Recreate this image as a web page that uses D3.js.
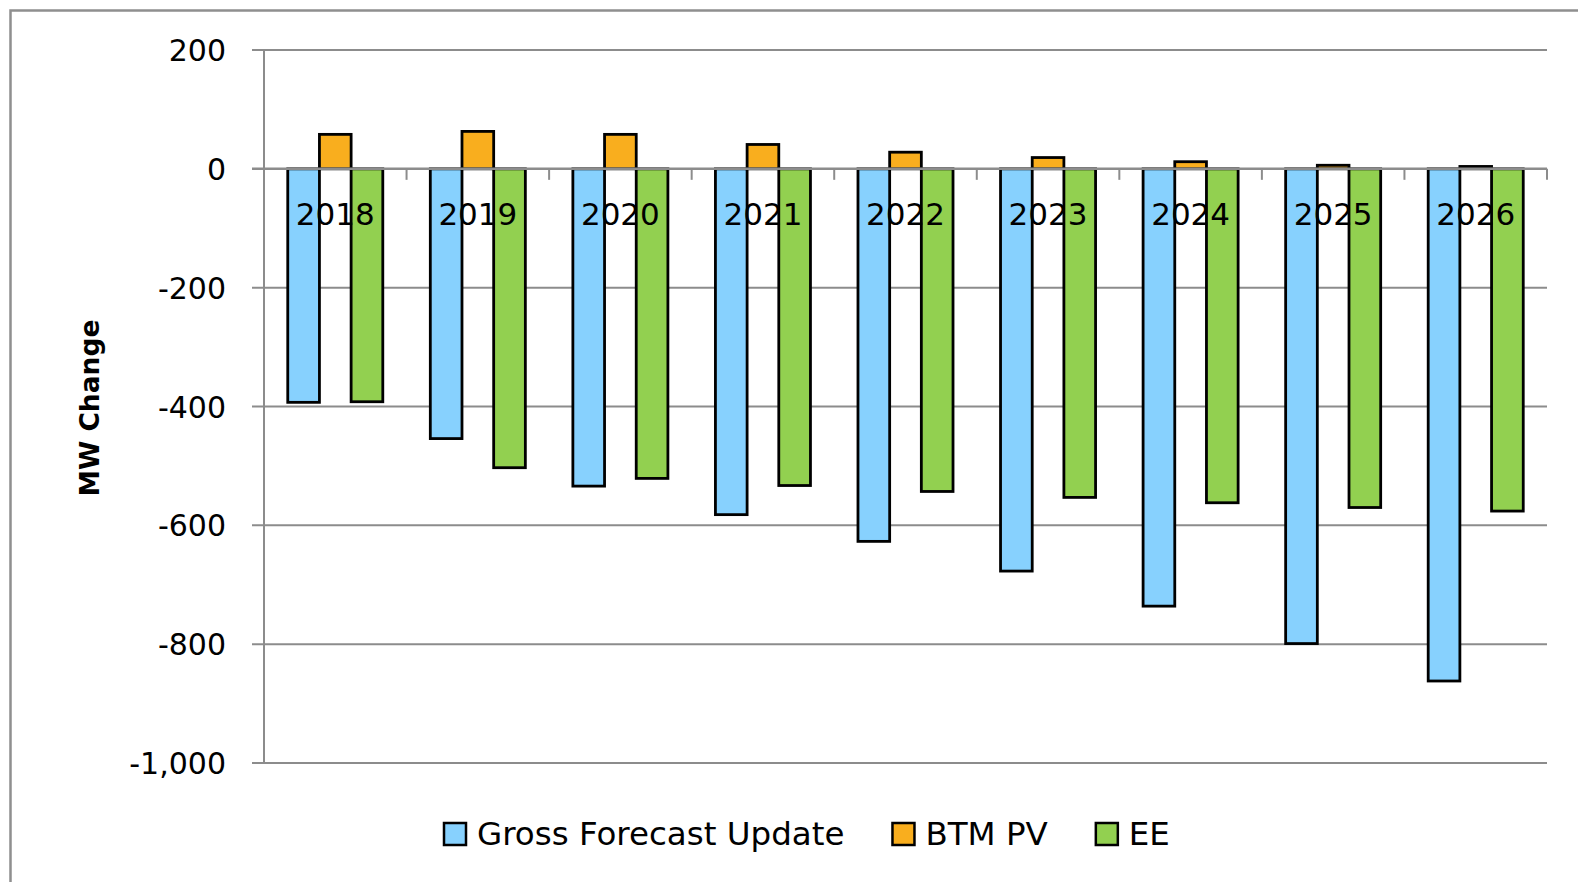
<!DOCTYPE html>
<html>
<head>
<meta charset="utf-8">
<script src="https://cdn.jsdelivr.net/npm/d3@7"></script>
<style>
  body { margin: 0; background: #fff; }
  svg { display: block; font-family: "DejaVu Sans", sans-serif; }
</style>
</head>
<body>
<div id="chart"></div>
<script>
// data
var years = ["2018", "2019", "2020", "2021", "2022", "2023", "2024", "2025", "2026"];
var seriesNames = ["Gross Forecast Update", "BTM PV", "EE"];
var grossForecast = [-393, -454, -534, -582, -627, -677, -736, -799, -862];
var btmPV = [58, 63, 58, 41, 28, 19, 12, 6, 4];
var ee = [-392, -503, -521, -533, -543, -553, -562, -570, -576];
var yTicks = [200, 0, -200, -400, -600, -800, -1000];
var colors = ["#87d1fe", "#f9ae1e", "#92d050"];

var width = 1578, height = 882;
var margin = { top: 50, right: 31, bottom: 119, left: 264 };

var svg = d3.select("#chart").append("svg")
  .attr("width", width)
  .attr("height", height);

// outer chart border (runs off the right/bottom of the picture)
svg.append("rect")
  .attr("x", 10.5).attr("y", 10.5)
  .attr("width", width + 20).attr("height", height + 20)
  .attr("fill", "none")
  .attr("stroke", "#8f8f8f")
  .attr("stroke-width", 2.5);

var x0 = d3.scaleBand()
  .domain(years)
  .range([margin.left, width - margin.right]);

var band = x0.bandwidth();
var gap = band * 1.5 / 4.5;
var x1 = d3.scaleBand()
  .domain(seriesNames)
  .range([gap / 2, band - gap / 2]);

var y = d3.scaleLinear()
  .domain([-1000, 200])
  .range([height - margin.bottom, margin.top]);

var data = years.map(function(yr, i) {
  return {
    year: yr,
    values: [grossForecast[i], btmPV[i], ee[i]].map(function(v, j) {
      return { name: seriesNames[j], value: v, color: colors[j] };
    })
  };
});

// gridlines
svg.append("g")
  .selectAll("line")
  .data(yTicks.filter(function(d) { return d !== 0; }))
  .enter().append("line")
  .attr("x1", margin.left - 12)
  .attr("x2", width - margin.right)
  .attr("y1", function(d) { return y(d); })
  .attr("y2", function(d) { return y(d); })
  .attr("stroke", "#8c8c8c")
  .attr("stroke-width", 2);

// y axis line
svg.append("line")
  .attr("x1", margin.left).attr("x2", margin.left)
  .attr("y1", y(200)).attr("y2", y(-1000))
  .attr("stroke", "#8c8c8c")
  .attr("stroke-width", 2);

// bars
var group = svg.append("g")
  .selectAll(".year")
  .data(data)
  .enter().append("g")
  .attr("class", "year")
  .attr("transform", function(d) { return "translate(" + x0(d.year) + ",0)"; });

group.selectAll("rect")
  .data(function(d) { return d.values; })
  .enter().append("rect")
  .attr("x", function(d) { return x1(d.name); })
  .attr("width", x1.bandwidth())
  .attr("y", function(d) { return y(Math.max(0, d.value)); })
  .attr("height", function(d) { return Math.abs(y(d.value) - y(0)); })
  .attr("fill", function(d) { return d.color; })
  .attr("stroke", "#000")
  .attr("stroke-width", 2.8);

// zero line and category ticks
svg.append("line")
  .attr("x1", margin.left - 12)
  .attr("x2", width - margin.right)
  .attr("y1", y(0)).attr("y2", y(0))
  .attr("stroke", "#8c8c8c")
  .attr("stroke-width", 2.5);

svg.append("g")
  .selectAll("line")
  .data(years.slice(1).concat(["end"]))
  .enter().append("line")
  .attr("x1", function(d) { return d === "end" ? x0.range()[1] : x0(d); })
  .attr("x2", function(d) { return d === "end" ? x0.range()[1] : x0(d); })
  .attr("y1", y(0))
  .attr("y2", y(0) + 11)
  .attr("stroke", "#8c8c8c")
  .attr("stroke-width", 2);

// category labels
svg.append("g")
  .selectAll("text")
  .data(years)
  .enter().append("text")
  .attr("x", function(d) { return x0(d) + band / 2; })
  .attr("y", y(0) + 56)
  .attr("text-anchor", "middle")
  .attr("font-size", 31)
  .attr("fill", "#000")
  .text(function(d) { return d; });

// y tick labels (plain hyphen for the minus sign, as in the original)
var fmt = d3.format(",");
svg.append("g")
  .selectAll("text")
  .data(yTicks)
  .enter().append("text")
  .attr("x", 226)
  .attr("y", function(d) { return y(d) + 11; })
  .attr("text-anchor", "end")
  .attr("font-size", 30)
  .attr("fill", "#000")
  .text(function(d) { return fmt(d).replace("\u2212", "-"); });

// y axis title
svg.append("text")
  .attr("transform", "translate(99,408) rotate(-90)")
  .attr("text-anchor", "middle")
  .attr("font-size", 26.5)
  .attr("font-weight", "bold")
  .attr("fill", "#000")
  .text("MW Change");

// legend
var legend = svg.append("g");
var lx = 444;
seriesNames.forEach(function(name, i) {
  legend.append("rect")
    .attr("x", lx).attr("y", 823)
    .attr("width", 22).attr("height", 22)
    .attr("fill", colors[i])
    .attr("stroke", "#000")
    .attr("stroke-width", 2.5);
  var t = legend.append("text")
    .attr("x", lx + 33)
    .attr("y", 845)
    .attr("font-size", 32.5)
    .attr("fill", "#000")
    .text(name);
  lx += 33 + t.node().getComputedTextLength() + 48;
});
</script>
</body>
</html>
